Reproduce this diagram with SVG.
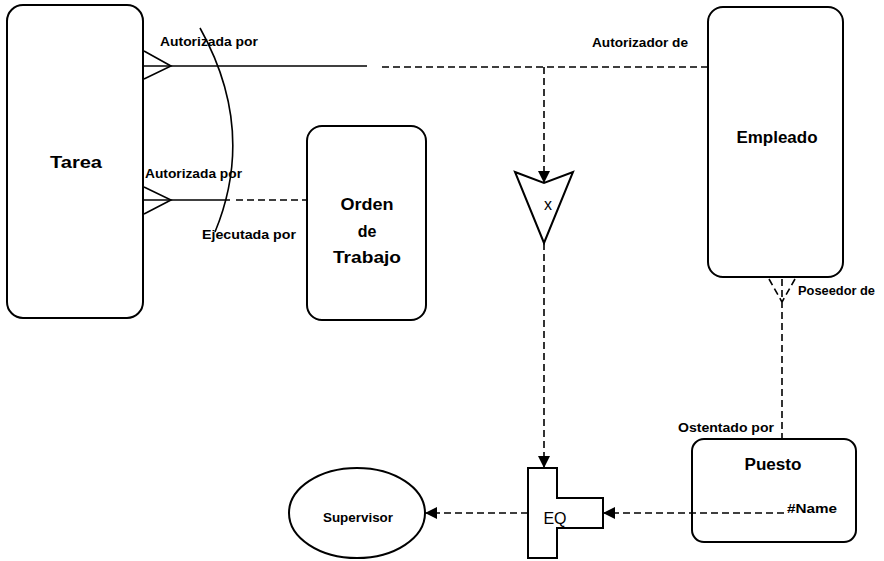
<svg xmlns="http://www.w3.org/2000/svg" width="884" height="561" viewBox="0 0 884 561">
  <style>
    .box { fill: #fff; stroke: #000; stroke-width: 2; }
    .ln { fill: none; stroke: #000; stroke-width: 1.6; }
    .dash { fill: none; stroke: #000; stroke-width: 1.6; stroke-dasharray: 7 4; }
    .big { font-family: "Liberation Sans", Arial, sans-serif; font-size: 16px; font-weight: bold; fill: #000; text-anchor: middle; }
    .lbl { font-family: "Liberation Sans", Arial, sans-serif; font-size: 12px; font-weight: bold; fill: #000; }
    .eq { font-family: "Liberation Sans", Arial, sans-serif; font-size: 16px; fill: #000; text-anchor: middle; }
  </style>
  <defs>
    <marker id="arrow" viewBox="0 0 12 12" refX="12" refY="6" markerWidth="12" markerHeight="12" markerUnits="userSpaceOnUse" orient="auto">
      <path d="M0,0 L12,6 L0,12 Z" fill="#000"/>
    </marker>
  </defs>

  <rect width="884" height="561" fill="#fff"/>

  <!-- entity boxes -->
  <g id="tarea">
    <rect class="box" x="7" y="5" width="136" height="313" rx="16"/>
    <text class="big" x="76" y="168" textLength="52" lengthAdjust="spacingAndGlyphs">Tarea</text>
  </g>
  <g id="orden-trabajo">
    <rect class="box" x="307" y="126" width="119" height="194" rx="15"/>
    <text class="big" x="367" y="210" textLength="53" lengthAdjust="spacingAndGlyphs">Orden</text>
    <text class="big" x="367" y="237">de</text>
    <text class="big" x="367" y="263" textLength="68" lengthAdjust="spacingAndGlyphs">Trabajo</text>
  </g>
  <g id="empleado">
    <rect class="box" x="708" y="7" width="135" height="270" rx="15"/>
    <text class="big" x="777" y="143" textLength="81" lengthAdjust="spacingAndGlyphs">Empleado</text>
  </g>
  <g id="puesto">
    <rect class="box" x="692" y="439" width="164" height="103" rx="12"/>
    <text class="big" x="773" y="470" textLength="57" lengthAdjust="spacingAndGlyphs">Puesto</text>
    <text class="lbl" x="787" y="513" textLength="50" lengthAdjust="spacingAndGlyphs">#Name</text>
  </g>
  <g id="supervisor">
    <ellipse class="box" cx="357" cy="513" rx="68" ry="45"/>
    <text class="lbl" x="323" y="522" textLength="70" lengthAdjust="spacingAndGlyphs">Supervisor</text>
  </g>
  <g id="exclusion">
    <path class="box" d="M515,172 L544,183 L573,172 L544,243 Z" stroke-width="1.6"/>
    <text class="eq" x="548" y="210" font-size="14">x</text>
  </g>
  <g id="eq">
    <path class="box" d="M528,468 H557 V498 H603 V528 H557 V558 H528 Z"/>
    <text class="eq" x="555" y="524">EQ</text>
  </g>

  <!-- connectors -->
  <g id="connectors">
    <!-- Tarea - Empleado -->
    <path class="ln" d="M144,51 L171,66 L144,79"/>
    <line class="ln" x1="144" y1="66" x2="367" y2="66"/>
    <line class="dash" x1="382" y1="67" x2="708" y2="67"/>
    <!-- branch to exclusion -->
    <line class="dash" x1="544" y1="67" x2="544" y2="183" marker-end="url(#arrow)"/>
    <!-- Tarea - Orden de Trabajo -->
    <path class="ln" d="M144,187 L171,200 L144,214"/>
    <line class="ln" x1="144" y1="200" x2="230" y2="200"/>
    <line class="dash" x1="236" y1="200" x2="307" y2="200"/>
    <!-- arc across the two relationships -->
    <path class="ln" d="M200,28 Q257,130 215,232"/>
    <!-- exclusion to EQ -->
    <line class="dash" x1="544" y1="243" x2="544" y2="468" marker-end="url(#arrow)"/>
    <!-- Empleado - Puesto -->
    <path class="dash" d="M769,279 L782,302 M795,279 L782,302" stroke-dasharray="5 3"/>
    <line class="dash" x1="782" y1="279" x2="782" y2="439"/>
    <!-- Puesto #Name to EQ -->
    <line class="dash" x1="784" y1="513" x2="603" y2="513" marker-end="url(#arrow)"/>
    <!-- EQ to Supervisor -->
    <line class="dash" x1="528" y1="513" x2="425" y2="513" marker-end="url(#arrow)"/>
  </g>

  <!-- role labels -->
  <g id="labels">
    <text class="lbl" x="160" y="46" textLength="98" lengthAdjust="spacingAndGlyphs">Autorizada por</text>
    <text class="lbl" x="145" y="178" textLength="97" lengthAdjust="spacingAndGlyphs">Autorizada por</text>
    <text class="lbl" x="202" y="239" textLength="94" lengthAdjust="spacingAndGlyphs">Ejecutada por</text>
    <text class="lbl" x="592" y="47" textLength="96" lengthAdjust="spacingAndGlyphs">Autorizador de</text>
    <text class="lbl" x="798" y="295" textLength="77" lengthAdjust="spacingAndGlyphs">Poseedor de</text>
    <text class="lbl" x="678" y="432" textLength="96" lengthAdjust="spacingAndGlyphs">Ostentado por</text>
  </g>
</svg>
